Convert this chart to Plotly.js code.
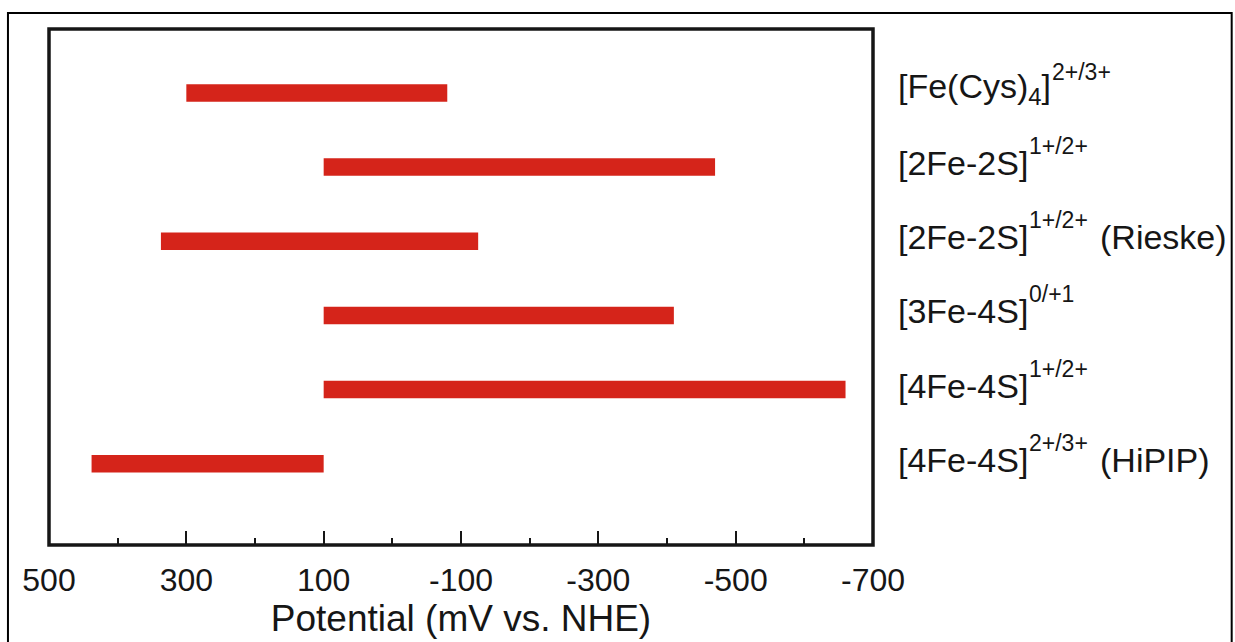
<!DOCTYPE html>
<html>
<head>
<meta charset="utf-8">
<script src="https://cdn.plot.ly/plotly-3.0.1.min.js"></script>
<style>
  html, body { margin: 0; padding: 0; background: #ffffff; }
  #chart { width: 1235px; height: 642px; }
</style>
</head>
<body>
<div id="chart"></div>
<script>
// Iron–sulfur cluster classes and their redox potential ranges (mV vs. NHE)
const clusterNames  = ['[Fe(Cys)<sub>4</sub>]', '[2Fe-2S]', '[2Fe-2S]', '[3Fe-4S]', '[4Fe-4S]', '[4Fe-4S]'];
const redoxCouples  = ['2+/3+', '1+/2+', '1+/2+', '0/+1', '1+/2+', '2+/3+'];
const clusterNotes  = ['', '', '(Rieske)', '', '', '(HiPIP)'];
const rangeHigh = [300, 100, 337, 100, 100, 438];    // most positive end
const rangeLow  = [-80, -470, -125, -410, -660, 100]; // most negative end

const tickValues = [500, 300, 100, -100, -300, -500, -700];
const tickLabels = ['500', '300', '100', '-100', '-300', '-500', '-700'];
const minorTickValues = [400, 200, 0, -200, -400, -600];

const ink = '#161616';
const barRed = '#d5241a';
const fontFamily = '"Liberation Sans", Arial, Helvetica, sans-serif';
const nameSize = 34;
const chargeSize = 23;

const rowIds = clusterNames.map((_, i) => i);

// text widths, so the charge superscript and note can follow each name
const ctx = document.createElement('canvas').getContext('2d');
function measure(str, size) {
  ctx.font = size + 'px "Liberation Sans", Arial, sans-serif';
  return ctx.measureText(str).width;
}
function richWidth(markup, size) {
  const parts = markup.split(/<sub>(.*?)<\/sub>/);
  let w = 0;
  parts.forEach((p, k) => { w += measure(p, k % 2 ? Math.round(size * 0.7) : size); });
  return w;
}

const bars = {
  type: 'bar',
  orientation: 'h',
  y: rowIds,
  base: rangeHigh,
  x: rangeHigh.map((h, i) => rangeLow[i] - h),
  width: 0.236,
  marker: { color: barRed, line: { width: 0 } },
  hoverinfo: 'skip',
  showlegend: false
};

const labelX = 25;      // gap between plot frame and the row labels
const nameLift = 4;
const chargeLift = nameLift + 17;
const annotations = [];
rowIds.forEach(i => {
  const nameW = richWidth(clusterNames[i], nameSize);
  const chargeW = measure(redoxCouples[i], chargeSize);
  annotations.push({
    xref: 'paper', x: 1, xshift: labelX, xanchor: 'left',
    yref: 'y', y: i, yanchor: 'middle', yshift: nameLift,
    text: clusterNames[i], showarrow: false, borderpad: 0, borderwidth: 0,
    font: { family: fontFamily, size: nameSize, color: ink }
  });
  annotations.push({
    xref: 'paper', x: 1, xshift: labelX + nameW + 1, xanchor: 'left',
    yref: 'y', y: i, yanchor: 'middle', yshift: chargeLift,
    text: redoxCouples[i], showarrow: false, borderpad: 0, borderwidth: 0,
    font: { family: fontFamily, size: chargeSize, color: ink }
  });
  if (clusterNotes[i]) {
    annotations.push({
      xref: 'paper', x: 1, xshift: labelX + nameW + 1 + chargeW + 12, xanchor: 'left',
      yref: 'y', y: i, yanchor: 'middle', yshift: nameLift,
      text: clusterNotes[i], showarrow: false, borderpad: 0, borderwidth: 0,
      font: { family: fontFamily, size: nameSize, color: ink }
    });
  }
});

const layout = {
  width: 1235,
  height: 642,
  margin: { l: 49, r: 362, t: 29, b: 97, pad: 0 },
  paper_bgcolor: '#ffffff',
  plot_bgcolor: '#ffffff',
  font: { family: fontFamily, color: ink },
  xaxis: {
    range: [500, -700],
    tickmode: 'array',
    tickvals: tickValues,
    ticktext: tickLabels,
    ticks: 'inside',
    ticklen: 14,
    tickwidth: 2,
    tickcolor: ink,
    ticklabelstandoff: 13,
    tickfont: { family: fontFamily, size: 32, color: ink },
    minor: { tickvals: minorTickValues, ticks: 'inside', ticklen: 7, tickwidth: 2, tickcolor: ink },
    showgrid: false,
    zeroline: false,
    showline: false,
    title: { text: 'Potential (mV vs. NHE)', font: { family: fontFamily, size: 37, color: ink }, standoff: 4 },
    fixedrange: true
  },
  yaxis: {
    range: [6.097, -0.863],
    showticklabels: false,
    ticks: '',
    showgrid: false,
    zeroline: false,
    showline: false,
    fixedrange: true
  },
  annotations: annotations,
  shapes: [
    // frame around the plotting area
    { type: 'rect', xref: 'paper', yref: 'paper', x0: 0, x1: 1, y0: 0, y1: 1,
      line: { color: ink, width: 3.5 }, layer: 'above' },
    // outer figure frame
    { type: 'rect', xref: 'paper', yref: 'paper', x0: -0.0498, x1: 1.4353, y0: -0.2, y1: 1.031,
      line: { color: '#000000', width: 2 }, layer: 'above' }
  ]
};

Plotly.newPlot('chart', [bars], layout, { staticPlot: true, displayModeBar: false });
</script>
</body>
</html>
